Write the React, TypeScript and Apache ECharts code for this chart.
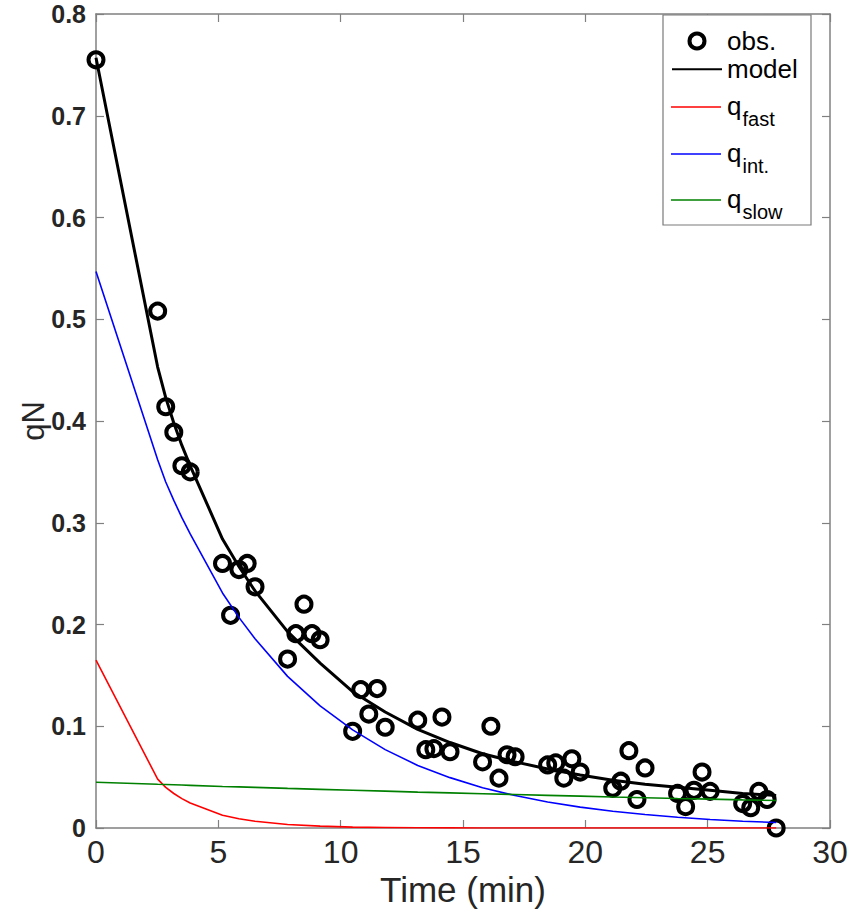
import React, { useEffect, useRef } from "react";
import * as echarts from "echarts";

// observed samples (time in min, qN)
const obsTime = [
  0,
  2.52, 2.85, 3.18, 3.51, 3.85,
  5.17, 5.5, 5.84, 6.18, 6.5,
  7.83, 8.17, 8.5, 8.83, 9.16,
  10.49, 10.82, 11.15, 11.49, 11.82,
  13.15, 13.48, 13.81, 14.14, 14.47,
  15.8, 16.14, 16.47, 16.8, 17.13,
  18.46, 18.79, 19.12, 19.45, 19.79,
  21.12, 21.45, 21.78, 22.11, 22.44,
  23.77, 24.1, 24.44, 24.77, 25.1,
  26.43, 26.76, 27.09, 27.43, 27.8,
];
const obsValue = [
  0.755,
  0.508, 0.414, 0.389, 0.356, 0.35,
  0.26, 0.209, 0.254, 0.26, 0.237,
  0.166, 0.191, 0.22, 0.191, 0.185,
  0.095, 0.136, 0.112, 0.137, 0.099,
  0.106, 0.077, 0.078, 0.109, 0.075,
  0.065, 0.1, 0.049, 0.072, 0.07,
  0.062, 0.064, 0.049, 0.068, 0.055,
  0.039, 0.046, 0.076, 0.028, 0.059,
  0.034, 0.021, 0.037, 0.055, 0.036,
  0.024, 0.02, 0.036, 0.028, 0.0,
];

// model components evaluated at sample times
const lineTime = [
  0, 2.52, 2.85, 3.18, 3.51, 3.85, 5.17, 5.84, 6.5, 7.83, 9.16, 10.49, 11.82,
  13.15, 14.47, 15.8, 17.13, 18.46, 19.79, 21.12, 22.44, 23.77, 25.1, 26.43, 27.8,
];
const modelValue = [
  0.757, 0.453, 0.423, 0.398, 0.376, 0.356, 0.284, 0.257, 0.233, 0.193, 0.162,
  0.134, 0.114, 0.097, 0.084, 0.073, 0.065, 0.058, 0.052, 0.047, 0.043, 0.04,
  0.037, 0.034, 0.032,
];
const fastValue = [
  0.165, 0.048, 0.0399, 0.0339, 0.0289, 0.0246, 0.0126, 0.0091, 0.0066, 0.0034,
  0.0018, 0.0009, 0.0005, 0.0002, 0.0001, 0, 0, 0, 0, 0, 0, 0, 0, 0, 0,
];
const intValue = [
  0.547, 0.362, 0.34, 0.322, 0.305, 0.289, 0.231, 0.207, 0.186, 0.149, 0.12,
  0.0964, 0.077, 0.0615, 0.0495, 0.0396, 0.0319, 0.0255, 0.0205, 0.0164, 0.0132,
  0.0105, 0.0084, 0.0067, 0.0054,
];
const slowValue = [
  0.045, 0.043, 0.0428, 0.0425, 0.0422, 0.0419, 0.0408, 0.0404, 0.0399, 0.0389,
  0.038, 0.0371, 0.0362, 0.0353, 0.0345, 0.0337, 0.0329, 0.0321, 0.0313, 0.0305,
  0.0298, 0.029, 0.0284, 0.0276, 0.027,
];

const legendTopNames = ["obs.", "model"];
const componentSubs = ["fast", "int.", "slow"];
const componentColors = ["#ff0000", "#0000ff", "#008000"];

const AXIS = "#808080";
const TEXT = "#262626";
const FONT = "'Liberation Sans', Arial, sans-serif";

export default function App() {
  const ref = useRef<HTMLDivElement>(null);
  useEffect(() => {
    if (!ref.current) return;
    const chart = echarts.init(ref.current, null, { renderer: "svg" });
    const pairs = (xs: number[], ys: number[]) => xs.map((x, i) => [x, ys[i]]);
    const tickStyle = {
      show: true,
      inside: true,
      length: 8,
      lineStyle: { color: AXIS, width: 1.2 },
    };
    const lineAxis = { show: true, onZero: false, lineStyle: { color: AXIS, width: 1.5 } };

    // legend rows for the three components (line + q + subscript)
    const rowY = [107, 154, 200];
    const compLegend: any[] = [];
    componentSubs.forEach((sub, i) => {
      const y = rowY[i];
      compLegend.push(
        {
          type: "line",
          z: 7,
          shape: { x1: 671, y1: y, x2: 721, y2: y },
          style: { stroke: componentColors[i], lineWidth: 1.6 },
        },
        {
          type: "text",
          z: 7,
          x: 727,
          y: y - 1,
          style: {
            text: "q",
            font: `26px ${FONT}`,
            fill: "#000000",
            align: "left",
            verticalAlign: "middle",
          },
        },
        {
          type: "text",
          z: 7,
          x: 742.5,
          y: y + 12,
          style: {
            text: sub,
            font: `20px ${FONT}`,
            fill: "#000000",
            align: "left",
            verticalAlign: "middle",
          },
        }
      );
    });

    chart.setOption({
      animation: false,
      backgroundColor: "#ffffff",
      grid: { left: 96, right: 21, top: 14, bottom: 93, outerBoundsMode: "none", containLabel: false },
      graphic: [
        {
          type: "rect",
          z: 5,
          shape: { x: 663, y: 15, width: 148, height: 210 },
          style: { fill: "#ffffff", stroke: "#7a7a7a", lineWidth: 1.2 },
        },
        ...compLegend,
      ],
      xAxis: [
        {
          type: "value",
          min: 0,
          max: 30,
          interval: 5,
          position: "bottom",
          axisLine: lineAxis,
          axisTick: tickStyle,
          splitLine: { show: false },
          axisLabel: {
            color: TEXT,
            fontSize: 32,
            fontFamily: FONT,
            margin: 8,
          },
          name: "Time (min)",
          nameLocation: "middle",
          nameGap: 44,
          nameMoveOverlap: false,
          nameTextStyle: {
            color: TEXT,
            fontSize: 35,
            fontFamily: FONT,
          },
        },
        {
          type: "value",
          min: 0,
          max: 30,
          interval: 5,
          position: "top",
          axisLine: lineAxis,
          axisTick: tickStyle,
          splitLine: { show: false },
          axisLabel: { show: false },
        },
      ],
      yAxis: [
        {
          type: "value",
          min: 0,
          max: 0.8,
          interval: 0.1,
          position: "left",
          axisLine: lineAxis,
          axisTick: tickStyle,
          splitLine: { show: false },
          axisLabel: {
            color: TEXT,
            fontSize: 25,
            fontWeight: "bold",
            fontFamily: FONT,
            margin: 10,
          },
          name: "qN",
          nameLocation: "middle",
          nameGap: 47,
          nameMoveOverlap: false,
          nameTextStyle: {
            color: TEXT,
            fontSize: 31,
            fontFamily: FONT,
          },
        },
        {
          type: "value",
          min: 0,
          max: 0.8,
          interval: 0.1,
          position: "right",
          axisLine: lineAxis,
          axisTick: tickStyle,
          splitLine: { show: false },
          axisLabel: { show: false },
        },
      ],
      legend: {
        orient: "vertical",
        left: 663,
        top: 15,
        padding: [13, 0, 0, 8],
        itemGap: 2.3,
        itemWidth: 50,
        itemHeight: 15,
        selectedMode: false,
        borderWidth: 0,
        z: 6,
        data: legendTopNames.map((n, i) =>
          i === 0
            ? { name: n, itemStyle: { opacity: 1, borderWidth: 4, borderColor: "#000" } }
            : { name: n, itemStyle: { opacity: 0 } }
        ),
        textStyle: {
          color: "#000000",
          fontSize: 26,
          lineHeight: 26,
          fontFamily: FONT,
        },
      },
      series: [
        {
          name: "obs.",
          type: "scatter",
          clip: false,
          symbol: "circle",
          symbolSize: 15,
          data: pairs(obsTime, obsValue),
          itemStyle: {
            color: "rgba(0,0,0,0)",
            borderColor: "#000000",
            borderWidth: 4,
            opacity: 1,
          },
          z: 2,
        },
        {
          name: "model",
          type: "line",
          data: pairs(lineTime, modelValue),
          symbol: "none",
          lineStyle: { color: "#000000", width: 3 },
          itemStyle: { color: "#000000" },
          z: 3,
        },
        {
          name: "q_fast",
          type: "line",
          data: pairs(lineTime, fastValue),
          symbol: "none",
          lineStyle: { color: componentColors[0], width: 1.6 },
          itemStyle: { color: componentColors[0] },
          z: 3,
        },
        {
          name: "q_int",
          type: "line",
          data: pairs(lineTime, intValue),
          symbol: "none",
          lineStyle: { color: componentColors[1], width: 1.6 },
          itemStyle: { color: componentColors[1] },
          z: 3,
        },
        {
          name: "q_slow",
          type: "line",
          data: pairs(lineTime, slowValue),
          symbol: "none",
          lineStyle: { color: componentColors[2], width: 1.6 },
          itemStyle: { color: componentColors[2] },
          z: 3,
        },
      ],
    });
    return () => chart.dispose();
  }, []);
  return (
    <div
      ref={ref}
      style={{ position: "absolute", left: 0, top: 0, width: 851, height: 921 }}
    />
  );
}
